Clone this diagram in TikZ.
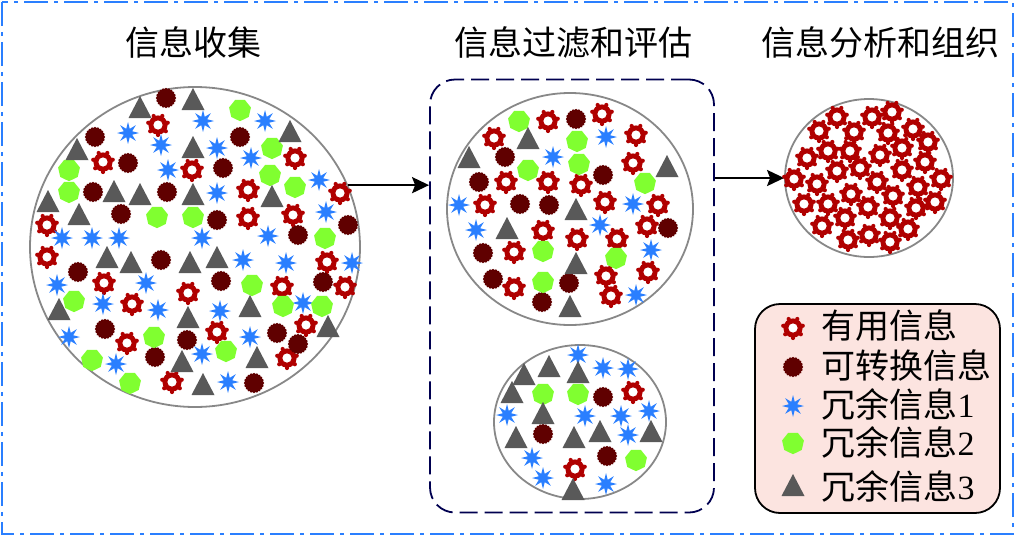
\documentclass[tikz,border=0pt]{standalone}
\usepackage{fontspec}
\setmainfont{Liberation Serif}
\newfontfamily\cjk{Noto Sans CJK SC}
\usetikzlibrary{shapes.geometric,arrows.meta}
\definecolor{usered}{RGB}{176,0,0}
\definecolor{convred}{RGB}{96,0,0}
\definecolor{spareblue}{RGB}{42,127,255}
\definecolor{sparegreen}{RGB}{128,255,48}
\definecolor{sparegray}{RGB}{89,89,89}
\definecolor{poolgray}{RGB}{136,136,136}
\definecolor{boxnavy}{RGB}{0,0,80}
\definecolor{legpink}{RGB}{252,228,224}
\tikzset{
  pool/.style={ellipse, draw=poolgray, line width=1.8pt, inner sep=0pt},
  title/.style={anchor=base, font=\cjk\fontsize{34}{40}\selectfont},
  legtext/.style={anchor=base west, font=\fontsize{34}{40}\selectfont},
  flow/.style={-{Stealth[length=17pt,width=16pt,inset=3pt]}, line width=2.5pt},
  usefulinfo/.pic={
    \fill[usered] (0,0) circle (9.6);
    \foreach \a in {90,141.4,...,400} \fill[usered] (\a:10) circle (2.1);
    \fill[white] (0,0) circle (4.6);},
  convinfo/.pic={
    \fill[convred] (0:10.2) \foreach \i in {1,...,39}{-- ({\i*9}:{ifthenelse(isodd(\i),9.2,10.2)})} -- cycle;},
  spareone/.pic={
    \fill[spareblue] (90:11) \foreach \i in {1,...,15}{-- ({90+\i*22.5}:{ifthenelse(isodd(\i),4.5,11)})} -- cycle;},
  sparetwo/.pic={
    \fill[sparegreen] (90:11.2) \foreach \i in {1,...,6}{-- ({90+\i*360/7}:11.2)} -- cycle;},
  sparethree/.pic={
    \fill[sparegray] (0,-12) -- (11.5,10) -- (-11.5,10) -- cycle;}
}
\begin{document}
\begin{tikzpicture}[x=1pt,y=-1pt]
\useasboundingbox (0,0) rectangle (1015,536);
\draw[spareblue, line width=2.2pt, dash pattern=on 24pt off 6pt on 4pt off 6pt] (2,2) rectangle (1013,534);

\node[title] (collecttitle) at (193,55) {信息收集};
\node[title] (filtertitle) at (573,55) {信息过滤和评估};
\node[title] (organizetitle) at (880,55) {信息分析和组织};

\node[pool, minimum width=330pt, minimum height=320pt] (collect) at (195,247) {};
\node[draw=boxnavy, line width=1.8pt, dash pattern=on 18pt off 7pt, rounded corners=25pt, minimum width=284pt, minimum height=433pt] (filterbox) at (572,296) {};
\node[pool, minimum width=246pt, minimum height=232pt] (keep) at (570,209) {};
\node[pool, minimum width=172pt, minimum height=154pt] (drop) at (580,422) {};
\node[pool, minimum width=168pt, minimum height=158pt] (organize) at (869,178) {};

\draw[flow] (collect.22) -- (collect.22 -| filterbox.west);
\draw[flow] (organize.west -| filterbox.east) -- (organize.west);

\foreach \x/\y in {158/125,103/162,192/170,295/158,248/190,340/193,47/225,248/218,293/215,47/257,327/262,104/283,282/287,345/287,188/293,132/304,217/332,306/325,127/343,287/358,172/382,
  548/121,602/114,494/138,636/135,633/163,506/182,548/182,581/185,485/205,605/202,658/205,647/226,543/231,577/239,617/239,514/252,648/272,606/276,514/288,611/296,
  633/392,575/469,
  837/117,872/117,892/112,819/131,854/132,888/133,913/129,928/142,902/148,828/151,850/151,807/158,880/155,925/162,860/168,837/171,902/170,794/179,817/184,877/182,941/179,918/187,851/194,893/196,935/202,804/204,828/204,868/207,916/208,845/218,890/218,822/226,908/229,848/240,869/235,890/242}
  \pic at (\x,\y) {usefulinfo};
\foreach \x/\y in {166/98,95/137,240/137,128/163,223/168,93/192,167/192,121/214,217/220,348/225,298/235,161/260,78/272,221/281,323/282,105/329,187/340,277/333,298/344,155/357,254/383,
  576/119,505/157,603/175,479/182,520/204,549/205,668/228,483/253,493/279,569/283,542/302,
  603/397,543/434,607/456}
  \pic at (\x,\y) {convinfo};
\foreach \x/\y in {203/121,265/121,128/133,161/145,217/148,251/158,168/170,319/180,217/193,326/212,62/238,92/238,119/238,202/238,268/236,243/260,286/263,352/263,57/285,146/283,103/304,158/310,220/311,303/303,69/337,250/337,202/354,116/364,228/382,
  606/137,553/157,459/205,633/204,600/225,476/230,651/250,636/295,
  578/355,603/368,628/369,507/415,585/416,621/416,649/411,628/435,532/458,543/478,606/484}
  \pic at (\x,\y) {spareone};
\foreach \x/\y in {240/110,272/148,69/170,270/175,295/187,69/192,157/217,193/217,325/238,252/285,74/301,283/306,322/306,154/337,226/351,92/360,130/383,
  519/121,577/141,528/170,579/164,645/183,543/251,616/258,543/282,
  543/394,578/394,636/460}
  \pic at (\x,\y) {sparetwo};
\foreach \x/\y in {140/108,193/100,290/132,77/150,193/148,114/192,140/195,48/202,193/195,272/197,79/215,107/258,131/263,190/263,217/258,59/310,250/307,188/318,328/327,182/362,257/358,203/385,
  528/139,469/158,667/167,576/210,507/229,576/264,570/307,
  524/375,549/367,578/373,512/393,543/414,516/438,574/438,600/432,651/432,573/490}
  \pic at (\x,\y) {sparethree};

\node[draw, line width=1.8pt, fill=legpink, rounded corners=25pt, minimum width=245pt, minimum height=209pt] (legend) at (877.5,408.5) {};
\pic at (793,328) {usefulinfo};
\pic at (793,367) {convinfo};
\pic at (793,406) {spareone};
\pic at (793,443) {sparetwo};
\pic at (793,486) {sparethree};
\node[legtext] (usefultext) at (818,338) {\cjk 有用信息};
\node[legtext] (convtext) at (818,378) {\cjk 可转换信息};
\node[legtext] (onetext) at (818,417) {{\cjk 冗余信息}1};
\node[legtext] (twotext) at (818,455) {{\cjk 冗余信息}2};
\node[legtext] (threetext) at (818,499) {{\cjk 冗余信息}3};
\end{tikzpicture}
\end{document}
